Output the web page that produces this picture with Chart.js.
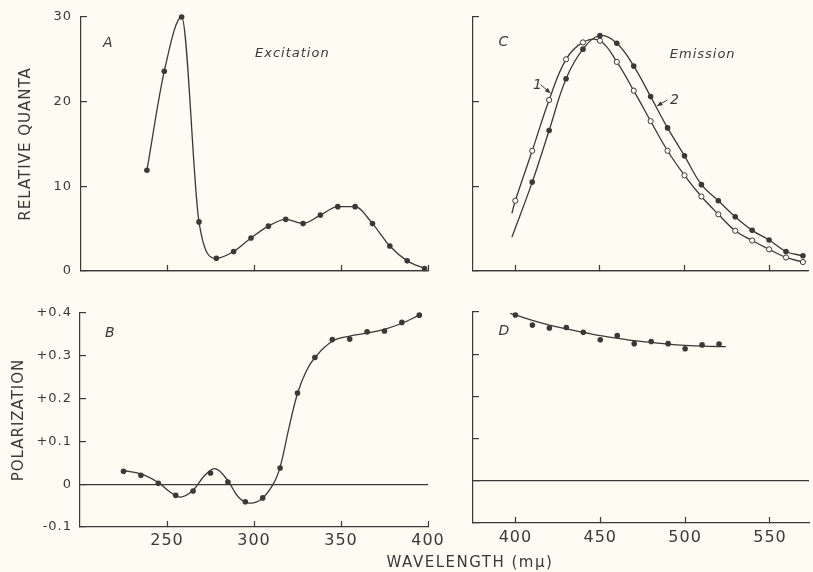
<!DOCTYPE html>
<html>
<head>
<meta charset="utf-8">
<title>Excitation and emission spectra</title>
<script src="https://cdn.jsdelivr.net/npm/chart.js@4.4.1/dist/chart.umd.min.js"></script>
<style>
  body { margin: 0; background: #fdfcf2; }
  #fig { position: relative; width: 813px; height: 572px; overflow: hidden; }
  #fig canvas { position: absolute; }
  #xlabel { position: absolute; left: 370px; top: 553px; width: 200px; text-align: center;
            font: 15px 'DejaVu Sans', sans-serif; letter-spacing: 1.5px; color: #3b3936; }
</style>
</head>
<body>
<div id="fig">
  <canvas id="panelA" width="440" height="290" style="left:0;top:0"></canvas>
  <canvas id="panelB" width="460" height="282" style="left:0;top:290px"></canvas>
  <canvas id="panelC" width="373" height="290" style="left:440px;top:0"></canvas>
  <canvas id="panelD" width="373" height="282" style="left:440px;top:290px"></canvas>
  <div id="xlabel">WAVELENGTH (mμ)</div>
</div>
<script>
// A: excitation spectrum
const excWl  = [238, 248, 258, 268, 278, 288, 298, 308, 318, 328, 338, 348, 358, 368, 378, 388, 398];
const excVal = [11.9, 23.6, 30.0, 5.8, 1.5, 2.3, 3.9, 5.3, 6.1, 5.6, 6.6, 7.6, 7.6, 5.6, 2.95, 1.2, 0.3];

// B: polarization of excitation, measured points and the drawn curve
const polWl  = [225, 235, 245, 255, 265, 275, 285, 295, 305, 315, 325, 335, 345, 355, 365, 375, 385, 395];
const polVal = [0.030, 0.021, 0.002, -0.026, -0.016, 0.026, 0.005, -0.041, -0.032, 0.038, 0.213, 0.296, 0.338, 0.339, 0.356, 0.358, 0.378, 0.395];
const polCurveWl  = [225, 235, 245, 251, 258, 265, 272, 278, 285, 291, 297, 304, 311, 315, 320, 325, 330, 335, 345, 355, 365, 375, 385, 395];
const polCurveVal = [0.032, 0.024, 0.004, -0.016, -0.030, -0.014, 0.022, 0.036, 0.008, -0.030, -0.044, -0.036, 0.000, 0.040, 0.130, 0.212, 0.264, 0.296, 0.334, 0.346, 0.353, 0.362, 0.376, 0.395];

// C: emission spectra 1 (open) and 2 (filled); first entry is where the drawn line starts
const emis1Wl  = [398, 400, 410, 420, 430, 440, 450, 460, 470, 480, 490, 500, 510, 520, 530, 540, 550, 560, 570];
const emis1Val = [6.8, 8.3, 14.2, 20.2, 25.0, 27.0, 27.2, 24.7, 21.3, 17.7, 14.2, 11.3, 8.8, 6.7, 4.75, 3.6, 2.56, 1.6, 1.06];
const emis2Wl  = [398, 410, 420, 430, 440, 450, 460, 470, 480, 490, 500, 510, 520, 530, 540, 550, 560, 570];
const emis2Val = [4.0, 10.5, 16.6, 22.7, 26.2, 27.8, 26.9, 24.2, 20.6, 16.9, 13.6, 10.2, 8.3, 6.4, 4.8, 3.66, 2.3, 1.8];

// D: polarization of emission
const dWl  = [400, 410, 420, 430, 440, 450, 460, 470, 480, 490, 500, 510, 520];
const dVal = [0.393, 0.369, 0.362, 0.363, 0.352, 0.334, 0.344, 0.325, 0.330, 0.325, 0.313, 0.322, 0.324];
const dCurveWl  = [397, 410, 420, 430, 440, 450, 460, 470, 480, 490, 500, 510, 524];
const dCurveVal = [0.397, 0.380, 0.369, 0.360, 0.352, 0.344, 0.338, 0.332, 0.328, 0.324, 0.321, 0.319, 0.318];

// ticks
const xTicksAB = [250, 300, 350, 400];
const xTicksCD = [400, 450, 500, 550];
const yTicksQuanta = [0, 10, 20, 30];
const yTicksPol = [-0.1, 0, 0.1, 0.2, 0.3, 0.4];

const ink = '#3b3936';
const paper = '#fdfcf2';
const family = "'DejaVu Sans', sans-serif";
Chart.defaults.font.family = family;
Chart.defaults.color = ink;

const pts = (xs, ys) => xs.map((x, i) => ({ x: x, y: ys[i] }));

// lettered look: a little extra spacing for all canvas text
const spacing = {
  id: 'spacing',
  beforeDraw(chart) { chart.ctx.letterSpacing = '1px'; }
};

function arrow(ctx, x1, y1, x2, y2) {
  const a = Math.atan2(y2 - y1, x2 - x1);
  ctx.beginPath(); ctx.moveTo(x1, y1); ctx.lineTo(x2, y2); ctx.stroke();
  ctx.beginPath();
  ctx.moveTo(x2, y2);
  ctx.lineTo(x2 - 6 * Math.cos(a - 0.4), y2 - 6 * Math.sin(a - 0.4));
  ctx.lineTo(x2 - 6 * Math.cos(a + 0.4), y2 - 6 * Math.sin(a + 0.4));
  ctx.closePath(); ctx.fill();
}

// panel letters, captions and the curve arrows (placed in data units)
const notes = {
  id: 'notes',
  afterDatasetsDraw(chart, args, opts) {
    const ctx = chart.ctx, sx = chart.scales.x, sy = chart.scales.y;
    ctx.save();
    ctx.fillStyle = ink; ctx.strokeStyle = ink; ctx.lineWidth = 1;
    ctx.textBaseline = 'middle'; ctx.textAlign = 'left';
    (opts.texts || []).forEach(t => {
      ctx.font = 'italic ' + (t.size || 14) + 'px ' + family;
      ctx.fillText(t.text, sx.getPixelForValue(t.x), sy.getPixelForValue(t.y));
    });
    (opts.arrows || []).forEach(a => {
      arrow(ctx, sx.getPixelForValue(a[0]), sy.getPixelForValue(a[1]),
                 sx.getPixelForValue(a[2]), sy.getPixelForValue(a[3]));
    });
    ctx.restore();
  }
};

function noPad(s) { s.paddingLeft = s.paddingRight = s.paddingTop = s.paddingBottom = 0; }

function xAxis(min, max, ticks, labels, height, pad) {
  return {
    type: 'linear', min: min, max: max,
    afterBuildTicks: s => { s.ticks = ticks.map(v => ({ value: v })); },
    afterFit: s => { s.height = height; noPad(s); },
    border: { color: ink, width: 1.2 },
    grid: { drawOnChartArea: false, tickLength: -6, tickColor: ink, tickWidth: 1.2 },
    ticks: { display: labels, color: ink, font: { size: 16 }, padding: pad, maxRotation: 0 }
  };
}

function yAxis(min, max, ticks, fmt, width, title, titleX) {
  return {
    type: 'linear', min: min, max: max,
    afterBuildTicks: s => { s.ticks = ticks.map(v => ({ value: v })); },
    afterFit: s => { s.width = width; noPad(s); },
    border: { color: ink, width: 1.2 },
    grid: {
      color: c => (c.tick && Math.abs(c.tick.value) < 1e-9) ? ink : 'rgba(0,0,0,0)',
      lineWidth: 1.2, tickLength: -6, tickColor: ink, tickWidth: 1.2
    },
    ticks: { display: !!fmt, callback: fmt || (v => v), color: ink, font: { size: 13 }, padding: width - 72 + 6 },
    title: {
      display: !!title, text: title || '', color: ink, font: { size: 15 },
      padding: { top: (titleX || 0) - 9, bottom: 0 }
    }
  };
}

function curve(xs, ys, extra) {
  return Object.assign({
    data: pts(xs, ys), borderColor: ink, borderWidth: 1.3,
    pointRadius: 0, tension: 0.4, clip: false
  }, extra || {});
}

function dots(xs, ys) {
  return {
    data: pts(xs, ys), showLine: false, pointRadius: 2.8,
    pointBorderWidth: 0, pointBackgroundColor: ink, clip: false
  };
}

function panel(id, cfg) {
  return new Chart(document.getElementById(id), {
    type: 'line',
    data: { datasets: cfg.datasets },
    options: {
      responsive: false, animation: false, events: [],
      layout: { padding: cfg.pad },
      plugins: { legend: { display: false }, tooltip: { enabled: false }, notes: cfg.notes },
      scales: { x: cfg.x, y: cfg.y }
    },
    plugins: [spacing, notes]
  });
}

const polFmt = v => Math.abs(v) < 1e-9 ? '0' : (v > 0 ? '+' : '') + v.toFixed(1);

panel('panelA', {
  pad: { top: 17, right: 12, left: 0, bottom: 0 },
  x: xAxis(200, 400, xTicksAB, false, 19, 10),
  y: yAxis(0, 30, yTicksQuanta, v => String(v), 81, 'RELATIVE QUANTA', 26),
  datasets: [
    curve(excWl, excVal, { pointRadius: 2.8, pointBorderWidth: 0, pointBackgroundColor: ink,
                           cubicInterpolationMode: 'monotone' })
  ],
  notes: { texts: [{ text: 'A', x: 212.7, y: 26.9 }, { text: 'Excitation', x: 300.3, y: 25.7, size: 13 }] }
});

panel('panelB', {
  pad: { top: 23, right: 32, left: 0, bottom: 0 },
  x: xAxis(200, 400, xTicksAB, true, 45, 10),
  y: yAxis(-0.1, 0.4, yTicksPol, polFmt, 80, 'POLARIZATION', 19),
  datasets: [dots(polWl, polVal), curve(polCurveWl, polCurveVal)],
  notes: { texts: [{ text: 'B', x: 214.4, y: 0.353 }] }
});

panel('panelC', {
  pad: { top: 17, right: 0, left: 0, bottom: 0 },
  x: xAxis(375, 573, xTicksCD, false, 19, 10),
  y: yAxis(0, 30, yTicksQuanta, null, 33),
  datasets: [
    curve(emis2Wl, emis2Val, { pointRadius: c => c.dataIndex === 0 ? 0 : 2.8,
                               pointBorderWidth: 0, pointBackgroundColor: ink }),
    curve(emis1Wl, emis1Val, { pointRadius: c => c.dataIndex === 0 ? 0 : 2.6,
                               pointBorderWidth: 1, pointBorderColor: ink, pointBackgroundColor: paper })
  ],
  notes: {
    texts: [
      { text: 'C', x: 390, y: 27.0 }, { text: 'Emission', x: 491.3, y: 25.5, size: 13 },
      { text: '1', x: 410.5, y: 21.9 }, { text: '2', x: 491.5, y: 20.2 }
    ],
    arrows: [[415, 22.0, 420.8, 21.0], [490, 20.2, 483.7, 19.5]]
  }
});

panel('panelD', {
  pad: { top: 22, right: 0, left: 0, bottom: 0 },
  x: xAxis(375, 573, xTicksCD, true, 49, 11),
  y: yAxis(-0.1, 0.4, yTicksPol, null, 33),
  datasets: [dots(dWl, dVal), curve(dCurveWl, dCurveVal)],
  notes: { texts: [{ text: 'D', x: 390, y: 0.353 }] }
});
</script>
</body>
</html>
